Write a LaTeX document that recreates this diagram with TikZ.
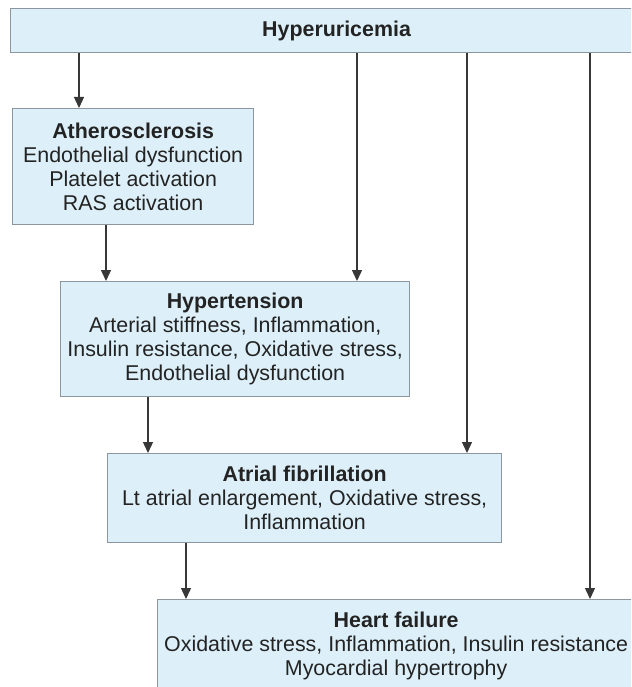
\documentclass[tikz,border=0pt]{standalone}
\usepackage{fontspec}
\setmainfont{Liberation Sans}
\usetikzlibrary{arrows.meta,positioning}
\definecolor{boxfill}{RGB}{221,240,249}
\definecolor{boxline}{RGB}{140,150,158}
\definecolor{arrline}{RGB}{55,55,55}
\definecolor{txt}{RGB}{35,35,35}

\begin{document}
\begin{tikzpicture}[
  x=1pt,y=1pt,
  box/.style={draw=boxline,fill=boxfill,line width=1.3pt,align=center,text=txt,
    font=\fontsize{21.4}{24}\selectfont,inner sep=0pt,anchor=north west},
  arr/.style={-{Triangle[length=11pt,width=10pt]},line width=1.3pt,draw=arrline}
]
\useasboundingbox (0,0) rectangle (631,-687);
\clip (0,0) rectangle (631,-687);
\node[box,minimum width=652pt,minimum height=44pt] (hyper) at (10,-8) {\textbf{Hyperuricemia}};
\node[box,minimum width=241pt,minimum height=116pt] (athero) at (12,-108)
  {\textbf{Atherosclerosis}\\Endothelial dysfunction\\Platelet activation\\RAS activation};
\node[box,minimum width=349pt,minimum height=115pt] (htn) at (60,-281)
  {\textbf{Hypertension}\\Arterial stiffness, Inflammation,\\Insulin resistance, Oxidative stress,\\Endothelial dysfunction};
\node[box,minimum width=394pt,minimum height=89pt] (af) at (107,-453)
  {\textbf{Atrial fibrillation}\\Lt atrial enlargement, Oxidative stress,\\Inflammation};
\node[box,minimum width=477pt,minimum height=92pt] (hf) at (157,-599)
  {\textbf{Heart failure}\\Oxidative stress, Inflammation, Insulin resistance\\Myocardial hypertrophy};
\draw[arr] ([xshift=67pt]athero.north west |- hyper.south) -- ([xshift=67pt]athero.north west);
\draw[arr] ([xshift=94pt]athero.south west) -- ([xshift=94pt]athero.south west |- htn.north);
\draw[arr] ([xshift=297pt]htn.north west |- hyper.south) -- ([xshift=297pt]htn.north west);
\draw[arr] ([xshift=88pt]htn.south west) -- ([xshift=88pt]htn.south west |- af.north);
\draw[arr] ([xshift=360pt]af.north west |- hyper.south) -- ([xshift=360pt]af.north west);
\draw[arr] ([xshift=79pt]af.south west) -- ([xshift=79pt]af.south west |- hf.north);
\draw[arr] ([xshift=433pt]hf.north west |- hyper.south) -- ([xshift=433pt]hf.north west);
\end{tikzpicture}
\end{document}
